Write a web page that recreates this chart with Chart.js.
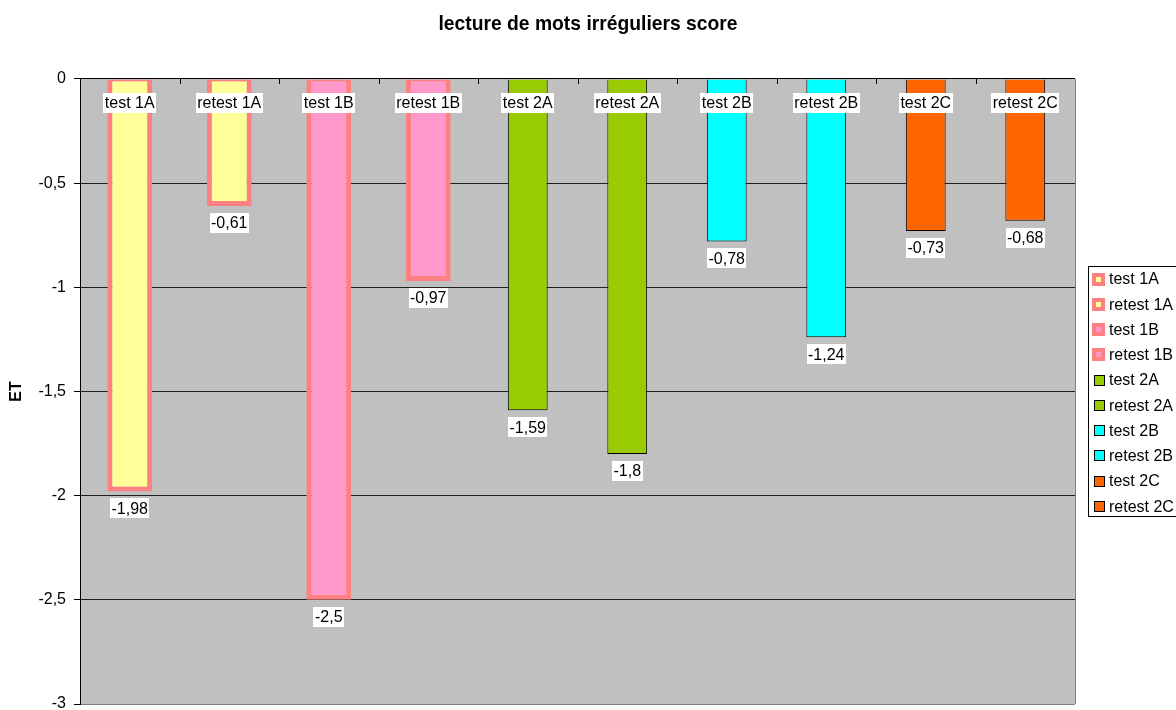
<!DOCTYPE html>
<html>
<head>
<meta charset="utf-8">
<title>lecture de mots irréguliers score</title>
<script src="https://cdn.jsdelivr.net/npm/chart.js@4.4.1/dist/chart.umd.min.js"></script>
<style>
  html, body { margin: 0; padding: 0; background: #ffffff; }
  #wrap { width: 1176px; height: 710px; }
</style>
</head>
<body>
<div id="wrap"><canvas id="chart" width="1176" height="710"></canvas></div>
<script>
// Categories (one series per category, as in the legend)
const categories = ['test 1A', 'retest 1A', 'test 1B', 'retest 1B', 'test 2A',
                    'retest 2A', 'test 2B', 'retest 2B', 'test 2C', 'retest 2C'];
// ET scores
const scores = [-1.98, -0.61, -2.5, -0.97, -1.59, -1.8, -0.78, -1.24, -0.73, -0.68];
// Y axis ticks
const yTicks = [0, -0.5, -1, -1.5, -2, -2.5, -3];

const FONT = "'Liberation Sans', Arial, Helvetica, sans-serif";
Chart.defaults.font.family = FONT;
Chart.defaults.color = '#000000';

// Per-series look: fill colour, border colour, border width
const looks = [
  { fill: '#FFFF99', border: '#FF8080', width: 5 },
  { fill: '#FFFF99', border: '#FF8080', width: 5 },
  { fill: '#FF99CC', border: '#FF8080', width: 5 },
  { fill: '#FF99CC', border: '#FF8080', width: 5 },
  { fill: '#99CC00', border: '#000000', width: 1 },
  { fill: '#99CC00', border: '#000000', width: 1 },
  { fill: '#00FFFF', border: '#000000', width: 1 },
  { fill: '#00FFFF', border: '#000000', width: 1 },
  { fill: '#FF6600', border: '#000000', width: 1 },
  { fill: '#FF6600', border: '#000000', width: 1 }
];

const fmt = v => String(v).replace('.', ',');

const datasets = categories.map((name, i) => {
  const lk = looks[i];
  const thick = lk.width > 1;
  return {
    label: name,
    data: categories.map((_, j) => (j === i ? scores[i] : null)),
    backgroundColor: lk.fill,
    borderColor: lk.border,
    borderWidth: thick ? { top: 2, right: 5, bottom: 5, left: 5 } : 1,
    borderSkipped: thick ? false : 'start',
    barPercentage: thick ? 0.45 : 0.40,
    categoryPercentage: 1.0,
    grouped: false
  };
});

// Grey plot background, frame pieces, and a title centred on the whole canvas
const plotFrame = {
  id: 'plotFrame',
  afterLayout(chart) {
    const t = chart.titleBlock;
    if (t) {
      t.left = 0;
      t.right = chart.width;
      t.width = chart.width;
    }
  },
  beforeDraw(chart) {
    const { ctx, chartArea: a } = chart;
    ctx.save();
    ctx.fillStyle = '#ffffff';
    ctx.fillRect(0, 0, chart.width, chart.height);
    ctx.fillStyle = '#C0C0C0';
    ctx.fillRect(a.left, a.top, a.right - a.left, a.bottom - a.top);
    ctx.restore();
  },
  beforeDatasetsDraw(chart) {
    const { ctx, chartArea: a, scales: { x } } = chart;
    ctx.save();
    ctx.strokeStyle = '#808080';
    ctx.lineWidth = 1;
    ctx.beginPath();
    ctx.moveTo(Math.round(a.right) + 0.5, a.top);
    ctx.lineTo(Math.round(a.right) + 0.5, a.bottom);
    ctx.stroke();
    // category tick marks hanging from the zero line
    ctx.strokeStyle = '#000000';
    const step = (a.right - a.left) / categories.length;
    ctx.beginPath();
    for (let k = 1; k < categories.length; k++) {
      const px = Math.round(x.getPixelForValue(k) - step / 2) + 0.5;
      ctx.moveTo(px, a.top);
      ctx.lineTo(px, a.top + 5);
    }
    ctx.stroke();
    ctx.restore();
  }
};

// Boxed labels: series name at the top, value under the bar end
const barLabels = {
  id: 'barLabels',
  afterDatasetsDraw(chart) {
    const { ctx, chartArea: a } = chart;
    ctx.save();
    ctx.font = '16px ' + FONT;
    ctx.textAlign = 'center';
    ctx.textBaseline = 'middle';
    const box = (text, cx, cy) => {
      const w = ctx.measureText(text).width + 3;
      ctx.fillStyle = '#ffffff';
      ctx.fillRect(Math.round(cx - w / 2), Math.round(cy - 10), Math.round(w), 20);
      ctx.fillStyle = '#000000';
      ctx.fillText(text, cx, cy + 1);
    };
    chart.data.datasets.forEach((ds, i) => {
      const meta = chart.getDatasetMeta(i);
      meta.data.forEach((el, j) => {
        const v = ds.data[j];
        if (v === null || v === undefined) return;
        box(ds.label, el.x, a.top + 24);
        box(fmt(v), el.x, el.y + 17);
      });
    });
    ctx.restore();
  }
};

// Legend panel on the right
const sideLegend = {
  id: 'sideLegend',
  afterDraw(chart) {
    const { ctx } = chart;
    ctx.save();
    const bx = 1088.5, by = 266.5, bw = 120, bh = 250;
    ctx.fillStyle = '#ffffff';
    ctx.fillRect(bx, by, bw, bh);
    ctx.strokeStyle = '#000000';
    ctx.lineWidth = 1;
    ctx.strokeRect(bx, by, bw, bh);
    ctx.font = '16px ' + FONT;
    ctx.textAlign = 'left';
    ctx.textBaseline = 'middle';
    chart.data.datasets.forEach((ds, i) => {
      const cy = 279 + 25.25 * i;
      const lk = looks[i];
      if (lk.width > 1) {
        ctx.fillStyle = lk.border;
        ctx.fillRect(1092, Math.round(cy - 6.5), 13, 13);
        ctx.fillStyle = lk.fill;
        ctx.fillRect(1096, Math.round(cy - 2.5), 5, 5);
      } else {
        ctx.fillStyle = lk.fill;
        ctx.fillRect(1094, Math.round(cy - 5.5), 11, 11);
        ctx.strokeStyle = '#000000';
        ctx.strokeRect(1094.5, Math.round(cy - 5.5) + 0.5, 10, 10);
      }
      ctx.fillStyle = '#000000';
      ctx.fillText(ds.label, 1109, cy + 1);
    });
    ctx.restore();
  }
};

new Chart(document.getElementById('chart'), {
  type: 'bar',
  data: { labels: categories, datasets },
  options: {
    responsive: false,
    animation: false,
    devicePixelRatio: 1,
    layout: { padding: { left: 0, top: 0, right: 101, bottom: 6 } },
    plugins: {
      legend: { display: false },
      tooltip: { enabled: false },
      title: {
        display: true,
        text: 'lecture de mots irréguliers score',
        font: { size: 19.3, weight: 'bold', family: FONT },
        color: '#000000',
        padding: { top: 13, bottom: 42.8 }
      }
    },
    scales: {
      x: {
        type: 'category',
        display: false,
        offset: true
      },
      y: {
        min: -3,
        max: 0,
        afterBuildTicks(scale) {
          scale.ticks = yTicks.map(v => ({ value: v }));
        },
        afterFit(scale) {
          scale.width = 80;
          scale.paddingTop = 0;
          scale.paddingBottom = 0;
        },
        ticks: {
          font: { size: 16, family: FONT },
          color: '#000000',
          padding: 8,
          callback: v => fmt(v)
        },
        grid: {
          color: c => (c.tick && c.tick.value === 0) ? '#000000'
                    : (c.tick && c.tick.value === -3) ? '#808080' : '#202020',
          tickColor: '#000000',
          tickLength: 6,
          lineWidth: 1
        },
        border: { display: true, color: '#000000', width: 1 },
        title: {
          display: true,
          text: 'ET',
          font: { size: 16, weight: 'bold', family: FONT },
          color: '#000000',
          padding: { top: 7, bottom: 0 }
        }
      }
    }
  },
  plugins: [plotFrame, barLabels, sideLegend]
});
</script>
</body>
</html>
